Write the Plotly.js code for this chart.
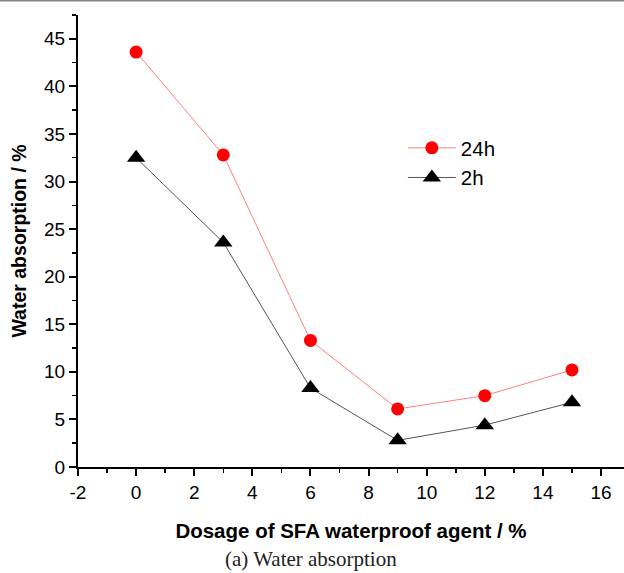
<!DOCTYPE html>
<html>
<head>
<meta charset="utf-8">
<script src="https://cdn.plot.ly/plotly-3.0.1.min.js"></script>
<style>html,body{margin:0;padding:0;background:#fff;}#chart{width:624px;height:573px;}</style>
</head>
<body>
<div id="chart"></div>
<script>
const dosage = [0, 3, 6, 9, 12, 15];
const absorption24h = [43.6, 32.8, 13.3, 6.1, 7.5, 10.2];
const absorption2h = [32.5, 23.6, 8.3, 2.8, 4.4, 6.8];
const seriesNames = ["24h", "2h"];
const xTickVals = [-2, 0, 2, 4, 6, 8, 10, 12, 14, 16];
const xTickText = ["-2", "0", "2", "4", "6", "8", "10", "12", "14", "16"];

const traces = [
  {
    x: dosage, y: absorption24h, name: seriesNames[0], type: "scatter", mode: "lines+markers",
    line: {color: "#ff8080", width: 1},
    marker: {symbol: "circle", size: 13, color: "#ff0000"}
  },
  {
    x: dosage, y: absorption2h, name: seriesNames[1], type: "scatter", mode: "lines+markers",
    line: {color: "#555555", width: 1},
    marker: {symbol: "triangle-up", size: 16, color: "#000000"}
  }
];

const layout = {
  width: 624, height: 573,
  margin: {l: 78, r: 0, t: 15, b: 106},
  paper_bgcolor: "#ffffff", plot_bgcolor: "#ffffff",
  font: {family: "Liberation Sans, Arial, sans-serif", color: "#000"},
  showlegend: true,
  legend: {
    x: 0.595, y: 0.75, xanchor: "left", yanchor: "top",
    bgcolor: "rgba(0,0,0,0)", font: {size: 20.5}, tracegroupgap: 0, itemwidth: 48
  },
  xaxis: {
    range: [-2, 16.79], tickmode: "array", tickvals: xTickVals, ticktext: xTickText,
    showgrid: false, zeroline: false, showline: true, linecolor: "#000", linewidth: 2,
    ticks: "outside", ticklen: 7, tickwidth: 2, tickcolor: "#000",
    minor: {dtick: 1, tick0: -2, ticks: "outside", ticklen: 4, tickwidth: 1.5, tickcolor: "#000", showgrid: false},
    tickfont: {size: 19},
    title: {text: "<b>Dosage of SFA waterproof agent / %</b>", font: {size: 20.5}, standoff: 22}
  },
  yaxis: {
    range: [0, 47.5], tickmode: "linear", tick0: 0, dtick: 5,
    showgrid: false, zeroline: false, showline: true, linecolor: "#000", linewidth: 2,
    ticks: "outside", ticklen: 7, tickwidth: 2, tickcolor: "#000",
    minor: {dtick: 2.5, tick0: 0, ticks: "outside", ticklen: 4, tickwidth: 1.5, tickcolor: "#000", showgrid: false},
    tickfont: {size: 19},
    title: {text: "<b>Water absorption / %</b>", font: {size: 19.5}, standoff: 12}
  },
  shapes: [
    {type: "line", xref: "paper", yref: "paper", x0: -0.2, x1: 1.1, y0: 1.032, y1: 1.032, line: {color: "#888", width: 2}}
  ],
  annotations: [
    {text: "(a) Water absorption", xref: "paper", yref: "paper", x: 0.427, y: -0.204, xanchor: "center", yanchor: "middle",
     showarrow: false, font: {family: "Liberation Serif, Times New Roman, serif", size: 21, color: "#222"}}
  ]
};

Plotly.newPlot("chart", traces, layout, {displayModeBar: false, staticPlot: true});
</script>
</body>
</html>
